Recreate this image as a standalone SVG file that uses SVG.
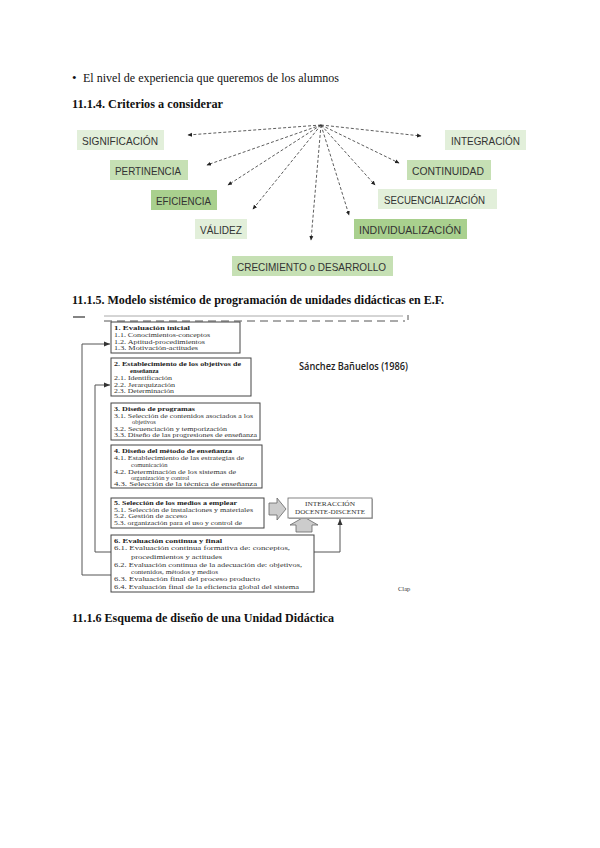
<svg xmlns="http://www.w3.org/2000/svg" width="600" height="848" viewBox="0 0 600 848">
<style>
.ser{font-family:"Liberation Serif","Times New Roman",serif;fill:#111}
.hd{font-family:"Liberation Serif","Times New Roman",serif;font-weight:bold;font-size:13.5px;fill:#111}
.cr{font-family:"Liberation Sans","Noto Sans",sans-serif;font-size:10.5px;fill:#333}
.g1{fill:#e2efda}.g2{fill:#c6e0b4}.g3{fill:#a9d08e}
.cn{stroke:#333;stroke-width:0.8;fill:none;stroke-dasharray:3 2}
.fx{font-family:"Liberation Serif","Times New Roman",serif;font-size:6.5px;fill:#333}
.fb{font-weight:bold;fill:#222}
.bx{fill:#fff;stroke:#444;stroke-width:1}
.ln{stroke:#555;stroke-width:1;fill:none}
</style>
<defs>
<marker id="ah" markerWidth="5" markerHeight="5" refX="4" refY="2.5" orient="auto" markerUnits="userSpaceOnUse"><path d="M0,0.5 L4.5,2.5 L0,4.5 Z" fill="#222"/></marker>
<marker id="ah2" markerWidth="7" markerHeight="6" refX="6" refY="3" orient="auto" markerUnits="userSpaceOnUse"><path d="M0,0.5 L6,3 L0,5.5 Z" fill="#333"/></marker>
</defs>
<rect width="600" height="848" fill="#fff"/>

<g id="intro">
<text class="ser" x="72" y="82" font-size="13">•</text>
<text class="ser" x="83" y="82" font-size="13" textLength="256" lengthAdjust="spacingAndGlyphs">El nivel de experiencia que queremos de los alumnos</text>
<text class="hd" x="72" y="108" textLength="151" lengthAdjust="spacingAndGlyphs">11.1.4. Criterios a considerar</text>
</g>

<g id="criteria-connectors">
<path class="cn" d="M321,125 L188,135" stroke-dasharray="6 3" marker-end="url(#ah)"/>
<path class="cn" d="M321,125 L207,165" marker-end="url(#ah)"/>
<path class="cn" d="M321,125 L228,185" marker-end="url(#ah)"/>
<path class="cn" d="M321,125 L253,209" marker-end="url(#ah)"/>
<path class="cn" d="M321,125 L311,240" stroke-dasharray="4 2" marker-end="url(#ah)"/>
<path class="cn" d="M321,125 L349,215" marker-end="url(#ah)"/>
<path class="cn" d="M321,125 L375,185" marker-end="url(#ah)"/>
<path class="cn" d="M321,125 L399,163" marker-end="url(#ah)"/>
<path class="cn" d="M321,125 L421,136" stroke-dasharray="6 3" marker-end="url(#ah)"/>
</g>

<g id="n-significacion"><rect class="g1" x="77" y="130" width="87" height="20"/><text class="cr" x="82" y="144.5" textLength="76" lengthAdjust="spacingAndGlyphs">SIGNIFICACIÓN</text></g>
<g id="n-pertinencia"><rect class="g2" x="110" y="160" width="78" height="20"/><text class="cr" x="115" y="174.5" textLength="66" lengthAdjust="spacingAndGlyphs">PERTINENCIA</text></g>
<g id="n-eficiencia"><rect class="g3" x="151" y="190" width="66" height="20"/><text class="cr" x="156" y="204.5" textLength="55" lengthAdjust="spacingAndGlyphs">EFICIENCIA</text></g>
<g id="n-validez"><rect class="g1" x="195" y="219" width="52" height="20"/><text class="cr" x="200" y="233.5" textLength="42" lengthAdjust="spacingAndGlyphs">VÁLIDEZ</text></g>
<g id="n-crecimiento"><rect class="g2" x="232" y="256" width="161" height="20"/><text class="cr" x="237" y="270.5" textLength="149" lengthAdjust="spacingAndGlyphs">CRECIMIENTO o DESARROLLO</text></g>
<g id="n-integracion"><rect class="g1" x="445" y="130" width="81" height="20"/><text class="cr" x="451" y="144.5" textLength="69" lengthAdjust="spacingAndGlyphs">INTEGRACIÓN</text></g>
<g id="n-continuidad"><rect class="g2" x="407" y="160" width="84" height="20"/><text class="cr" x="412" y="174.5" textLength="72" lengthAdjust="spacingAndGlyphs">CONTINUIDAD</text></g>
<g id="n-secuencializacion"><rect class="g1" x="378" y="189" width="119" height="20"/><text class="cr" x="384" y="203.5" textLength="101" lengthAdjust="spacingAndGlyphs">SECUENCIALIZACIÓN</text></g>
<g id="n-individualizacion"><rect class="g3" x="354" y="219" width="113" height="20"/><text class="cr" x="359" y="233.5" textLength="102" lengthAdjust="spacingAndGlyphs">INDIVIDUALIZACIÓN</text></g>

<g id="heading-2"><text class="hd" x="72" y="304" textLength="372" lengthAdjust="spacingAndGlyphs">11.1.5. Modelo sistémico de programación de unidades didácticas en E.F.</text></g>

<g id="figure-connectors">
<line x1="73" y1="317" x2="85" y2="317" stroke="#333" stroke-width="1.2"/>
<line x1="104" y1="316" x2="403" y2="316" stroke="#aaa" stroke-width="1"/>
<line x1="104" y1="321" x2="405" y2="321" stroke="#555" stroke-width="1" stroke-dasharray="8 5"/>
<line x1="408" y1="315" x2="408" y2="320" stroke="#555" stroke-width="1"/>
<path class="ln" d="M82,575 L111,575" stroke="#bbb"/>
<path class="ln" d="M82,575 L82,344 L110,344" marker-end="url(#ah2)" stroke="#777"/>
<path class="ln" d="M95,552 L95,385 L110,385" marker-end="url(#ah2)"/>
<path class="ln" d="M95,552 L111,552"/>
<path class="ln" d="M314,552 L340,552 L340,519" marker-end="url(#ah2)"/>
<path d="M269,503 L277,503 L277,498 L286,509 L277,520 L277,515 L269,515 Z" fill="#ccc" stroke="#666" stroke-width="0.8"/>
<path d="M296,532 L296,525 L290,525 L304,517 L318,525 L312,525 L312,532 Z" fill="#ccc" stroke="#666" stroke-width="0.8"/>
</g>

<g id="box-1">
<rect class="bx" x="111" y="322" width="129" height="31" stroke-width="1.3"/>
<text class="fx fb" x="114" y="329.5" textLength="76" lengthAdjust="spacingAndGlyphs">1.  Evaluación inicial</text>
<text class="fx" x="114" y="336.5" textLength="96" lengthAdjust="spacingAndGlyphs">1.1.  Conocimientos-conceptos</text>
<text class="fx" x="114" y="343.5" textLength="91" lengthAdjust="spacingAndGlyphs">1.2.  Aptitud-procedimientos</text>
<text class="fx" x="114" y="349.5" textLength="84" lengthAdjust="spacingAndGlyphs">1.3.  Motivación-actitudes</text>
</g>
<g id="box-2">
<rect class="bx" x="111" y="358" width="140" height="38"/>
<text class="fx fb" x="114" y="365.5" textLength="127" lengthAdjust="spacingAndGlyphs">2. Establecimiento de los objetivos de</text>
<text class="fx fb" x="130" y="372.5">enseñanza</text>
<text class="fx" x="114" y="380" textLength="58" lengthAdjust="spacingAndGlyphs">2.1. Identificación</text>
<text class="fx" x="114" y="386.5" textLength="61" lengthAdjust="spacingAndGlyphs">2.2. Jerarquización</text>
<text class="fx" x="114" y="393" textLength="60" lengthAdjust="spacingAndGlyphs">2.3. Determinación</text>
</g>
<g id="box-3">
<rect class="bx" x="111" y="403" width="149" height="37"/>
<text class="fx fb" x="114" y="410.5" textLength="81" lengthAdjust="spacingAndGlyphs">3. Diseño de programas</text>
<text class="fx" x="114" y="418" textLength="139" lengthAdjust="spacingAndGlyphs">3.1. Selección de contenidos asociados a los</text>
<text class="fx" x="132" y="424">objetivos</text>
<text class="fx" x="114" y="430.5" textLength="113" lengthAdjust="spacingAndGlyphs">3.2. Secuenciación y temporización</text>
<text class="fx" x="114" y="437" textLength="143" lengthAdjust="spacingAndGlyphs">3.3. Diseño de las progresiones de enseñanza</text>
</g>
<g id="box-4">
<rect class="bx" x="111" y="445" width="151" height="43"/>
<text class="fx fb" x="114" y="453" textLength="118" lengthAdjust="spacingAndGlyphs">4. Diseño del método de enseñanza</text>
<text class="fx" x="114" y="460" textLength="130" lengthAdjust="spacingAndGlyphs">4.1. Establecimiento de las estrategias de</text>
<text class="fx" x="131" y="466.5">comunicación</text>
<text class="fx" x="114" y="474" textLength="122" lengthAdjust="spacingAndGlyphs">4.2. Determinación de los sistemas de</text>
<text class="fx" x="131" y="480">organización y control</text>
<text class="fx" x="114" y="486" textLength="143" lengthAdjust="spacingAndGlyphs">4.3. Selección de la técnica de enseñanza</text>
</g>
<g id="box-5">
<rect class="bx" x="111" y="498" width="153" height="30"/>
<text class="fx fb" x="114" y="505" textLength="123" lengthAdjust="spacingAndGlyphs">5. Selección de los medios a emplear</text>
<text class="fx" x="114" y="512" textLength="139" lengthAdjust="spacingAndGlyphs">5.1. Selección de instalaciones y materiales</text>
<text class="fx" x="114" y="518" textLength="73" lengthAdjust="spacingAndGlyphs">5.2. Gestión de acceso</text>
<text class="fx" x="114" y="525" textLength="128" lengthAdjust="spacingAndGlyphs">5.3. organización para el uso y control de</text>
</g>
<g id="box-interaccion">
<rect x="289" y="499" width="84" height="20" fill="#bbb"/>
<rect x="288" y="498" width="84" height="20" fill="#fff" stroke="#666" stroke-width="0.8"/>
<text class="fx" x="330" y="505.5" text-anchor="middle" textLength="50" lengthAdjust="spacingAndGlyphs">INTERACCIÓN</text>
<text class="fx" x="330" y="513.5" text-anchor="middle" textLength="70" lengthAdjust="spacingAndGlyphs">DOCENTE-DISCENTE</text>
</g>
<g id="box-6">
<rect class="bx" x="111" y="535" width="203" height="57" stroke-width="1.2"/>
<text class="fx fb" x="114" y="542.5" font-size="7.5" textLength="108" lengthAdjust="spacingAndGlyphs">6. Evaluación continua y final</text>
<text class="fx" x="114" y="549.5" font-size="7.5" textLength="176" lengthAdjust="spacingAndGlyphs">6.1. Evaluación continua formativa de: conceptos,</text>
<text class="fx" x="131" y="559" font-size="7.5" textLength="91" lengthAdjust="spacingAndGlyphs">procedimientos y actitudes</text>
<text class="fx" x="114" y="566.5" font-size="7.5" textLength="188" lengthAdjust="spacingAndGlyphs">6.2. Evaluación continua de la adecuación de: objetivos,</text>
<text class="fx" x="131" y="574" font-size="7.5" textLength="87" lengthAdjust="spacingAndGlyphs">contenidos, métodos y medios</text>
<text class="fx" x="114" y="580.5" font-size="7.5" textLength="146" lengthAdjust="spacingAndGlyphs">6.3. Evaluación final del proceso producto</text>
<text class="fx" x="114" y="589" font-size="7.5" textLength="185" lengthAdjust="spacingAndGlyphs">6.4. Evaluación final de la eficiencia global del sistema</text>
</g>
<g id="author">
<text x="299" y="370" font-family="'Open Sans','Liberation Sans',sans-serif" font-size="10" font-weight="600" fill="#222" textLength="109" lengthAdjust="spacingAndGlyphs">Sánchez Bañuelos (1986)</text>
<text class="fx" x="398" y="591" font-size="6" fill="#777">Clap</text>
</g>

<g id="heading-3"><text class="hd" x="72" y="622" textLength="262" lengthAdjust="spacingAndGlyphs">11.1.6 Esquema de diseño de una Unidad Didáctica</text></g>
</svg>
